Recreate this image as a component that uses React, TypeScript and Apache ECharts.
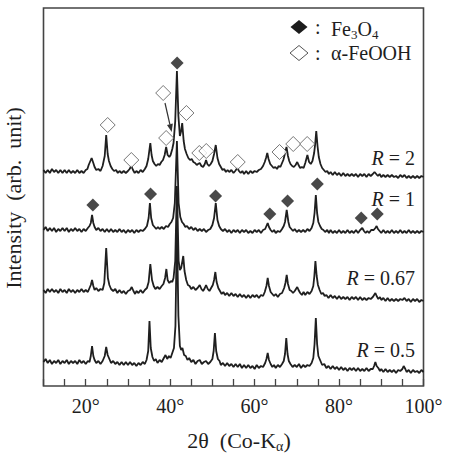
import React, { useEffect, useRef } from "react";
import * as echarts from "echarts";

const FONT = "'Liberation Serif', 'Times New Roman', Times, serif";
const INK = "#1e1e1e";

// XRD patterns: [2θ (deg), intensity (arb. unit)], one per R ratio
const patternR05: number[][] = [
  [10, 24], [10.5, 27], [11, 23], [11.5, 26], [12, 22], [12.5, 25], [13, 23], [13.5, 26], [14, 22], [14.5, 25],
  [15, 23], [15.5, 26], [16, 22], [16.5, 25], [17, 23], [17.5, 25], [18, 22], [18.5, 26], [19, 23], [19.5, 25],
  [20, 22], [20.5, 25], [20.9, 24], [21.2, 30], [21.5, 40], [21.8, 30], [22.1, 26], [22.5, 23], [23, 25], [23.5, 22],
  [24, 25], [24.5, 30], [24.85, 39], [25.2, 31], [25.6, 27], [26, 23], [26.5, 25], [27, 22], [27.5, 24], [28, 21],
  [28.5, 24], [29, 21], [29.5, 24], [30, 21], [30.5, 24], [31, 21], [31.5, 23], [32, 20], [32.5, 23], [33, 21],
  [33.5, 24], [34, 22], [34.4, 26], [34.8, 35], [35.1, 65], [35.4, 38], [35.8, 29], [36.2, 25], [36.6, 27], [37, 23],
  [37.5, 26], [38, 24], [38.5, 28], [38.9, 31], [39.3, 27], [39.7, 30], [40.1, 28], [40.5, 33], [40.9, 38], [41.25, 60],
  [41.6, 160], [41.95, 70], [42.3, 40], [42.6, 36], [42.9, 38], [43.3, 31], [43.7, 30], [44.1, 26], [44.5, 28], [45, 24],
  [45.5, 26], [46, 22], [46.5, 25], [47, 26], [47.5, 22], [48, 24], [48.5, 25], [49, 22], [49.5, 24], [50, 27],
  [50.3, 35], [50.6, 53], [50.9, 35], [51.3, 27], [51.7, 25], [52, 21], [52.5, 23], [53, 20], [53.5, 23], [54, 20],
  [54.5, 22], [55, 19], [55.5, 22], [56, 19], [56.5, 22], [57, 18], [57.5, 21], [58, 18], [58.5, 21], [59, 18],
  [59.5, 20], [60, 17], [60.5, 21], [61, 18], [61.5, 20], [62, 19], [62.5, 23], [62.8, 27], [63.1, 33], [63.4, 26],
  [63.8, 22], [64.2, 19], [64.6, 21], [65, 18], [65.5, 21], [66, 19], [66.5, 22], [66.9, 25], [67.2, 32], [67.5, 48],
  [67.8, 32], [68.1, 25], [68.5, 22], [69, 19], [69.5, 21], [70, 19], [70.5, 22], [71, 18], [71.5, 21], [72, 19],
  [72.5, 21], [73, 20], [73.5, 23], [73.9, 28], [74.2, 42], [74.5, 68], [74.8, 42], [75.1, 30], [75.5, 26], [76, 21],
  [76.5, 22], [77, 18], [77.5, 20], [78, 17], [78.5, 20], [79, 17], [79.5, 19], [80, 16], [80.5, 19], [81, 16],
  [81.5, 18], [82, 15], [82.5, 18], [83, 16], [83.5, 18], [84, 15], [84.5, 18], [85, 15], [85.5, 17], [86, 15],
  [86.5, 18], [87, 15], [87.5, 17], [88, 17], [88.3, 20], [88.6, 24], [88.9, 20], [89.3, 18], [89.7, 15], [90, 17],
  [90.5, 14], [91, 17], [91.5, 14], [92, 16], [92.5, 14], [93, 16], [93.5, 13], [94, 16], [94.5, 15], [95, 17],
  [95.3, 20], [95.7, 17], [96, 14], [96.5, 16], [97, 13], [97.5, 16], [98, 14], [98.5, 15], [99, 13], [99.5, 16], [100, 14],
];

const patternR067: number[][] = [
  [10, 26], [10.5, 23], [11, 27], [11.5, 24], [12, 27], [12.5, 24], [13, 26], [13.5, 23], [14, 27], [14.5, 24],
  [15, 26], [15.5, 23], [16, 27], [16.5, 24], [17, 26], [17.5, 23], [18, 26], [18.5, 24], [19, 27], [19.5, 24],
  [20, 26], [20.5, 24], [20.9, 28], [21.2, 31], [21.5, 36], [21.8, 30], [22.1, 26], [22.5, 28], [23, 25], [23.5, 27],
  [24, 26], [24.4, 33], [24.85, 68], [25.25, 38], [25.6, 31], [26, 27], [26.5, 25], [27, 27], [27.5, 23], [28, 26],
  [28.5, 23], [29, 25], [29.5, 22], [30, 25], [30.5, 26], [30.9, 29], [31.3, 25], [31.7, 22], [32, 25], [32.5, 23],
  [33, 26], [33.5, 23], [34, 26], [34.5, 28], [34.9, 34], [35.3, 52], [35.7, 36], [36.1, 30], [36.5, 27], [37, 29],
  [37.5, 27], [38, 30], [38.4, 32], [38.8, 38], [39.1, 47], [39.4, 36], [39.8, 33], [40.2, 35], [40.5, 34], [40.8, 38],
  [41.2, 55], [41.6, 130], [42, 55], [42.3, 46], [42.6, 48], [42.9, 55], [43.1, 60], [43.4, 45], [43.8, 36], [44.2, 31],
  [44.6, 30], [45, 27], [45.5, 29], [46, 26], [46.5, 28], [47, 31], [47.4, 27], [47.8, 25], [48.2, 28], [48.5, 31],
  [48.9, 27], [49.3, 25], [49.7, 28], [50.1, 31], [50.4, 36], [50.7, 44], [51, 34], [51.4, 28], [51.8, 25], [52.2, 22],
  [52.6, 24], [53, 21], [53.5, 23], [54, 20], [54.5, 23], [55, 20], [55.5, 22], [56, 19], [56.5, 22], [57, 19],
  [57.5, 21], [58, 18], [58.5, 21], [59, 18], [59.5, 21], [60, 19], [60.5, 21], [61, 18], [61.5, 21], [62, 20],
  [62.4, 24], [62.8, 30], [63.1, 38], [63.4, 30], [63.8, 24], [64.2, 22], [64.6, 20], [65, 22], [65.5, 19], [66, 22],
  [66.5, 23], [67, 28], [67.3, 33], [67.6, 41], [67.9, 32], [68.3, 26], [68.7, 25], [69.1, 23], [69.5, 25], [69.8, 27],
  [70.1, 29], [70.4, 26], [70.8, 23], [71.2, 21], [71.6, 24], [72, 21], [72.5, 24], [73, 22], [73.5, 25], [73.9, 30],
  [74.15, 40], [74.4, 55], [74.7, 40], [75, 31], [75.4, 26], [75.8, 22], [76.2, 23], [76.6, 20], [77, 21], [77.5, 18],
  [78, 21], [78.5, 18], [79, 20], [79.5, 17], [80, 20], [80.5, 17], [81, 19], [81.5, 17], [82, 19], [82.5, 16],
  [83, 19], [83.5, 17], [84, 19], [84.5, 16], [85, 19], [85.5, 16], [86, 18], [86.5, 16], [87, 18], [87.5, 17],
  [88, 19], [88.3, 21], [88.6, 23], [88.9, 20], [89.3, 17], [89.7, 19], [90, 16], [90.5, 18], [91, 15], [91.5, 18],
  [92, 15], [92.5, 17], [93, 15], [93.5, 17], [94, 15], [94.5, 17], [95, 16], [95.5, 18], [96, 15], [96.5, 17],
  [97, 14], [97.5, 17], [98, 15], [98.5, 17], [99, 14], [99.5, 16], [100, 15],
];

const patternR1: number[][] = [
  [10, 21], [10.5, 24], [11, 20], [11.5, 23], [12, 20], [12.5, 23], [13, 19], [13.5, 22], [14, 20], [14.5, 23],
  [15, 20], [15.5, 23], [16, 19], [16.5, 22], [17, 20], [17.5, 23], [18, 20], [18.5, 22], [19, 19], [19.5, 22],
  [20, 20], [20.5, 23], [20.9, 25], [21.2, 28], [21.5, 36], [21.8, 28], [22.1, 24], [22.5, 21], [23, 23], [23.5, 20],
  [24, 22], [24.5, 19], [25, 22], [25.5, 19], [26, 22], [26.5, 19], [27, 21], [27.5, 19], [28, 22], [28.5, 19],
  [29, 21], [29.5, 18], [30, 21], [30.5, 19], [31, 21], [31.5, 18], [32, 21], [32.5, 19], [33, 21], [33.5, 20],
  [34, 22], [34.5, 25], [34.9, 33], [35.2, 48], [35.5, 33], [35.9, 26], [36.3, 24], [36.7, 22], [37.1, 24], [37.5, 22],
  [38, 24], [38.5, 22], [39, 25], [39.5, 24], [39.9, 27], [40.3, 29], [40.7, 33], [41.1, 48], [41.6, 110], [42, 48],
  [42.4, 34], [42.8, 29], [43.2, 27], [43.6, 24], [44, 25], [44.5, 22], [45, 24], [45.5, 21], [46, 23], [46.5, 20],
  [47, 22], [47.5, 20], [48, 22], [48.5, 19], [49, 21], [49.5, 22], [50, 26], [50.4, 33], [50.8, 48], [51.2, 31],
  [51.6, 25], [52, 22], [52.5, 20], [53, 22], [53.5, 19], [54, 21], [54.5, 18], [55, 21], [55.5, 19], [56, 21],
  [56.5, 18], [57, 21], [57.5, 19], [58, 21], [58.5, 18], [59, 20], [59.5, 18], [60, 21], [60.5, 19], [61, 21],
  [61.5, 18], [62, 21], [62.5, 22], [62.8, 25], [63.1, 28], [63.4, 24], [63.8, 21], [64.2, 19], [64.6, 21], [65, 18],
  [65.5, 20], [66, 19], [66.5, 22], [66.9, 25], [67.2, 29], [67.6, 41], [68, 29], [68.3, 24], [68.7, 22], [69.1, 20],
  [69.5, 22], [70, 19], [70.5, 21], [71, 19], [71.5, 21], [72, 19], [72.5, 22], [73, 20], [73.5, 23], [73.9, 28],
  [74.2, 38], [74.5, 56], [74.8, 38], [75.1, 29], [75.5, 25], [75.9, 22], [76.3, 21], [76.7, 19], [77.2, 21], [77.6, 18],
  [78, 21], [78.5, 18], [79, 20], [79.5, 18], [80, 21], [80.5, 18], [81, 20], [81.5, 18], [82, 21], [82.5, 18],
  [83, 20], [83.5, 18], [84, 21], [84.5, 18], [85, 21], [85.5, 23], [85.9, 20], [86.3, 18], [86.7, 20], [87.1, 18],
  [87.6, 21], [88.2, 21], [88.6, 23], [88.9, 25], [89.2, 22], [89.6, 20], [90, 18], [90.5, 21], [91, 18], [91.5, 20],
  [92, 18], [92.5, 21], [93, 18], [93.5, 20], [94, 18], [94.5, 21], [95, 18], [95.5, 20], [96, 18], [96.5, 21],
  [97, 18], [97.5, 20], [98, 18], [98.5, 20], [99, 18], [99.5, 20], [100, 19],
];

const patternR2: number[][] = [
  [10, 21], [10.5, 18], [11, 21], [11.5, 18], [12, 22], [12.5, 19], [13, 21], [13.5, 18], [14, 21], [14.5, 18],
  [15, 21], [15.5, 18], [16, 21], [16.5, 18], [17, 20], [17.5, 18], [18, 21], [18.5, 18], [19, 20], [19.5, 18],
  [20, 21], [20.4, 22], [20.7, 26], [21.0, 29], [21.4, 33], [21.8, 28], [22.1, 24], [22.5, 21], [23, 22], [23.5, 20],
  [24, 25], [24.5, 35], [24.85, 56], [25.2, 37], [25.5, 30], [25.9, 25], [26.3, 22], [26.7, 20], [27.2, 21], [27.6, 18],
  [28, 20], [28.5, 18], [29, 20], [29.5, 18], [30, 20], [30.4, 22], [30.8, 25], [31.2, 21], [31.6, 18], [32, 20],
  [32.5, 18], [33, 21], [33.5, 19], [34, 22], [34.4, 25], [34.8, 32], [35.05, 40], [35.3, 48], [35.6, 36], [35.9, 30],
  [36.3, 27], [36.7, 25], [37.1, 27], [37.5, 26], [37.9, 29], [38.3, 31], [38.7, 36], [39.05, 44], [39.4, 36], [39.8, 34],
  [40.1, 36], [40.5, 42], [40.8, 48], [41.2, 70], [41.6, 120], [41.95, 75], [42.3, 55], [42.6, 60], [42.85, 68], [43.2, 50],
  [43.5, 42], [43.9, 37], [44.3, 33], [44.7, 31], [45.1, 32], [45.5, 29], [45.9, 28], [46.3, 26], [46.6, 27], [47, 28],
  [47.4, 25], [47.8, 24], [48.2, 27], [48.5, 31], [48.8, 27], [49.2, 25], [49.6, 27], [50, 30], [50.4, 37], [50.8, 46],
  [51.2, 33], [51.6, 27], [52, 24], [52.4, 21], [52.8, 22], [53.2, 19], [53.6, 21], [54, 19], [54.5, 21], [55, 18],
  [55.4, 20], [55.9, 23], [56.3, 20], [56.7, 18], [57.1, 20], [57.5, 17], [58, 20], [58.5, 17], [59, 20], [59.5, 18],
  [60, 20], [60.5, 19], [61, 21], [61.5, 22], [62, 25], [62.4, 29], [62.7, 33], [63, 38], [63.3, 32], [63.7, 27],
  [64.1, 25], [64.5, 23], [64.9, 24], [65.3, 22], [65.7, 25], [66.1, 24], [66.5, 28], [66.8, 31], [67.1, 36], [67.55, 44],
  [67.9, 35], [68.2, 30], [68.5, 27], [68.9, 25], [69.3, 24], [69.7, 26], [70.1, 29], [70.4, 26], [70.8, 23], [71.2, 24],
  [71.6, 23], [72, 28], [72.5, 36], [72.9, 29], [73.3, 27], [73.7, 30], [74.1, 38], [74.35, 47], [74.6, 60], [74.9, 45],
  [75.2, 34], [75.6, 27], [76, 23], [76.4, 21], [76.8, 19], [77.2, 20], [77.6, 17], [78, 19], [78.5, 16], [79, 19],
  [79.5, 16], [80, 18], [80.5, 15], [81, 18], [81.5, 15], [82, 17], [82.5, 15], [83, 17], [83.5, 15], [84, 17],
  [84.5, 14], [85, 17], [85.5, 15], [86, 17], [86.5, 14], [87, 17], [87.5, 15], [88, 17], [88.4, 19], [88.8, 17],
  [89.2, 15], [89.6, 17], [90, 14], [90.5, 16], [91, 14], [91.5, 16], [92, 14], [92.5, 16], [93, 14], [93.5, 15],
  [94, 13], [94.5, 16], [95, 14], [95.5, 16], [96, 13], [96.5, 15], [97, 13], [97.5, 15], [98, 13], [98.5, 15],
  [99, 13], [99.5, 15], [100, 14],
];

const patterns = [patternR05, patternR067, patternR1, patternR2];
const ratioValues = ["0.5", "0.67", "1", "2"];
// vertical stacking of the patterns
const stackOffsets = [0, 70, 135, 195];

// phase markers [2θ, stacked intensity]
const fe3o4Marks: number[][] = [
  [41.65, 323], [21.7, 181], [35.35, 192], [50.75, 190], [63.6, 172],
  [67.8, 185], [74.85, 202], [85.25, 168], [89.05, 172],
];
const feoohMarks: number[][] = [
  [25.2, 261], [30.8, 226], [38.35, 293], [39.05, 248], [43.85, 273],
  [46.9, 233], [48.55, 235], [56.0, 224], [65.9, 234], [69.15, 242], [72.45, 242],
];

const xTicks = { min: 10, max: 100, step: 5, labelStep: 20 };

export default function App() {
  const ref = useRef<HTMLDivElement>(null);

  useEffect(() => {
    if (!ref.current) return;
    document.body.style.margin = "0";
    const chart = echarts.init(ref.current, null, { renderer: "svg" });

    const lineSeries = patterns.map((pts, i) => ({
      type: "line" as const,
      name: "R = " + ratioValues[i],
      data: pts.map(([x, y]) => [x, y + stackOffsets[i]]),
      showSymbol: false,
      symbol: "none",
      lineStyle: { color: "#1f1f1f", width: 1.8 },
      z: 2,
    }));

    const sub = { fontSize: 13, fontFamily: FONT, fill: INK, lineHeight: 12, verticalAlign: "bottom" };
    const norm = { fontSize: 20, fontFamily: FONT, fill: INK, lineHeight: 24 };
    const ital = { ...norm, fontStyle: "italic" };
    const titleNorm = { fontSize: 22, fontFamily: FONT, fill: INK, lineHeight: 26 };
    const titleSub = { fontSize: 14, fontFamily: FONT, fill: INK, lineHeight: 13, verticalAlign: "bottom" };

    const ratioLabelY = [350, 278, 199, 158];
    const ratioTexts = ratioValues.map((v, i) => ({
      type: "text",
      x: 415,
      y: ratioLabelY[i],
      style: {
        text: "{i|R} {n|= " + v + "}",
        rich: { i: ital, n: norm },
        fontSize: 20,
        fontFamily: FONT,
        fill: INK,
        align: "right",
        verticalAlign: "middle",
      },
    }));

    chart.setOption({
      animation: false,
      grid: {
        left: 43.5,
        right: 26.5,
        top: 8,
        bottom: 70,
        show: true,
        borderColor: "#444",
        borderWidth: 1.6,
        backgroundColor: "transparent",
      },
      xAxis: {
        type: "value",
        min: xTicks.min,
        max: xTicks.max,
        interval: xTicks.step,
        axisLine: { show: false },
        axisTick: { show: true, inside: true, length: 7, lineStyle: { color: "#444", width: 1.3 } },
        splitLine: { show: false },
        axisLabel: {
          margin: 10,
          fontSize: 20,
          fontFamily: FONT,
          color: INK,
          formatter: (v: number) => (v % xTicks.labelStep === 0 && v > xTicks.min ? v + "°" : ""),
        },
      },
      yAxis: {
        type: "value",
        min: 0,
        max: 378,
        axisLine: { show: false },
        axisTick: { show: false },
        axisLabel: { show: false },
        splitLine: { show: false },
      },
      series: [
        ...lineSeries,
        {
          type: "scatter",
          name: "Fe3O4",
          data: fe3o4Marks,
          symbol: "diamond",
          symbolSize: [13, 13],
          itemStyle: { color: "#1c1c1c" },
          z: 4,
        },
        {
          type: "scatter",
          name: "α-FeOOH",
          data: feoohMarks,
          symbol: "diamond",
          symbolSize: [15, 15],
          itemStyle: { color: "#fff", borderColor: "#555", borderWidth: 1 },
          z: 3,
        },
      ],
      graphic: [
        // legend
        {
          type: "polygon",
          shape: { points: [[299, 20], [307.5, 27], [299, 34], [290.5, 27]] },
          style: { fill: "#1c1c1c" },
        },
        {
          type: "polygon",
          shape: { points: [[299, 45.5], [308, 53], [299, 60.5], [290, 53]] },
          style: { fill: "#fff", stroke: "#555", lineWidth: 1 },
        },
        {
          type: "text", x: 315, y: 27,
          style: { text: ":", fontSize: 20, fontFamily: FONT, fill: INK, verticalAlign: "middle" },
        },
        {
          type: "text", x: 315, y: 53,
          style: { text: ":", fontSize: 20, fontFamily: FONT, fill: INK, verticalAlign: "middle" },
        },
        {
          type: "text", x: 331, y: 29,
          style: {
            text: "{n|Fe}{s|3}{n|O}{s|4}",
            rich: { n: norm, s: sub },
            verticalAlign: "middle",
          },
        },
        {
          type: "text", x: 331, y: 53,
          style: { text: "α-FeOOH", fontSize: 20, fontFamily: FONT, fill: INK, verticalAlign: "middle" },
        },
        // arrow onto the shoulder peak
        {
          type: "line",
          shape: { x1: 165, y1: 103, x2: 169.9, y2: 124.5 },
          style: { stroke: "#333", lineWidth: 1.2 },
        },
        {
          type: "polygon",
          shape: { points: [[171.7, 132], [172.8, 123.5], [167.0, 124.9]] },
          style: { fill: "#333" },
        },
        ...ratioTexts,
        // axis titles
        {
          type: "text", x: 239, y: 440,
          style: {
            text: "{n|2θ  (Co-K}{s|α}{n|)}",
            rich: { n: titleNorm, s: titleSub },
            align: "center",
            verticalAlign: "middle",
          },
        },
        {
          type: "text", x: 13, y: 198, rotation: Math.PI / 2,
          style: {
            text: "Intensity  (arb.  unit)",
            fontSize: 22,
            fontFamily: FONT,
            fill: INK,
            align: "center",
            verticalAlign: "middle",
          },
        },
      ],
    });

    return () => chart.dispose();
  }, []);

  return <div ref={ref} style={{ width: 450, height: 456 }} />;
}
